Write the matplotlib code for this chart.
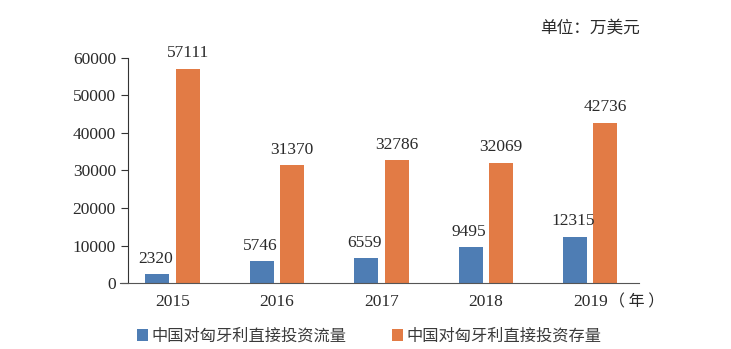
import matplotlib.pyplot as plt
import numpy as np

years = ['2015', '2016', '2017', '2018', '2019']
flow = [2320, 5746, 6559, 9495, 12315]
stock = [57111, 31370, 32786, 32069, 42736]
yticks = [0, 10000, 20000, 30000, 40000, 50000, 60000]

cn = ['Noto Sans CJK SC', 'DejaVu Sans']
num = ['Liberation Serif', 'Noto Sans CJK SC']
blue = '#4e7db4'
orange = '#e27b45'
txt = '#2a2a2a'

fig = plt.figure(figsize=(7.31, 3.49), dpi=100)
ax = fig.add_axes([0.1747, 0.189, 0.700, 0.645])

x = np.arange(len(years))
w = 0.23
off = 0.145
ax.bar(x - off, flow, w, color=blue, label='中国对匈牙利直接投资流量')
ax.bar(x + off, stock, w, color=orange, label='中国对匈牙利直接投资存量')

for i in range(len(years)):
    ax.text(x[i] - off - 0.02, flow[i] + 2000, str(flow[i]), ha='center', va='bottom',
            family=num, fontsize=12.5, color=txt, clip_on=False)
    ax.text(x[i] + off, stock[i] + 2000, str(stock[i]), ha='center', va='bottom',
            family=num, fontsize=12.5, color=txt, clip_on=False)

ax.set_xlim(-0.43, 4.47)
ax.set_ylim(0, 60000)
ax.set_yticks(yticks)
ax.set_yticklabels([str(v) for v in yticks], family=num, fontsize=12.5, color=txt)
ax.set_xticks(x)
ax.set_xticklabels(years, family=num, fontsize=12.5, color=txt)
ax.tick_params(axis='x', length=0, pad=8)
ax.tick_params(axis='y', length=5, direction='out', color='#333333')
ax.spines['top'].set_visible(False)
ax.spines['right'].set_visible(False)
ax.spines['left'].set_color('#333333')
ax.spines['bottom'].set_color('#555555')
ax.spines['bottom'].set_bounds(-0.5, 4.47)
ax.spines['bottom'].set_clip_on(False)

fig.text(609 / 731, 1 - 302 / 349, '（ 年 ）', family=cn, fontsize=11.5, va='center', ha='left',
         color=txt)
fig.text(640 / 731, 1 - 28 / 349, '单位：万美元', family=cn, fontsize=12, va='center', ha='right',
         color=txt)

fig.legend(loc='center', bbox_to_anchor=(0.505, 1 - 336 / 349), ncol=2, frameon=False,
           prop={'family': cn, 'size': 11.7}, labelcolor='#3a3a3a', handlelength=0.7,
           handleheight=0.7, handletextpad=0.2, columnspacing=2.8)

fig.savefig('out.png', dpi=100)
